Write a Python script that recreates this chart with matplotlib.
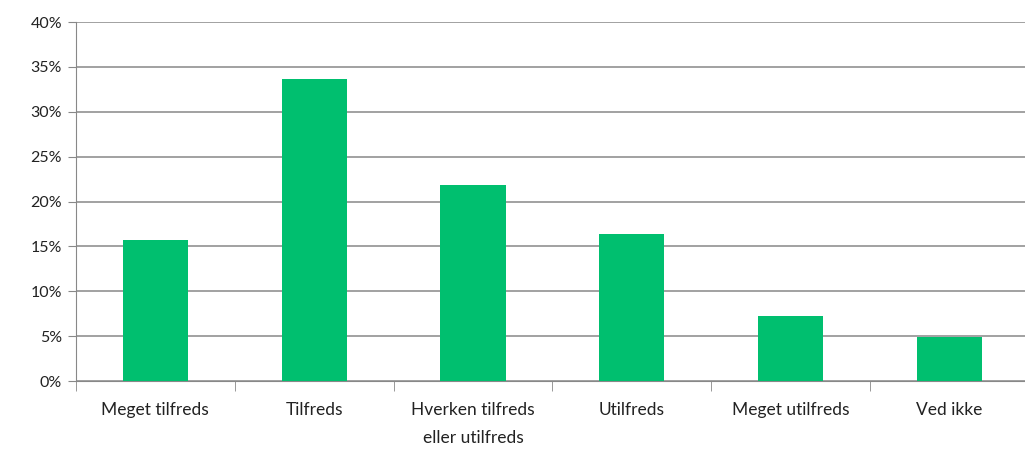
import matplotlib.pyplot as plt
from matplotlib.ticker import FixedLocator, FuncFormatter

# Data
kategorier = ["Meget tilfreds", "Tilfreds", "Hverken tilfreds\neller utilfreds",
              "Utilfreds", "Meget utilfreds", "Ved ikke"]
andel = [15.7, 33.7, 21.8, 16.4, 7.2, 4.9]
y_ticks = [0, 5, 10, 15, 20, 25, 30, 35, 40]

plt.rcParams['font.family'] = ['Lato', 'DejaVu Sans']

fig = plt.figure(figsize=(10.25, 4.51), dpi=100)
ax = fig.add_axes([0.074, 0.155, 0.93, 0.796])

x = list(range(len(kategorier)))
ax.bar(x, andel, width=0.41, color='#00BF6F', zorder=3)

ax.set_xlim(-0.5, len(kategorier) - 0.5)
ax.set_ylim(0, 40)
ax.set_yticks(y_ticks)
ax.yaxis.set_major_formatter(FuncFormatter(lambda v, p: f"{int(v)}%"))
ax.grid(axis='y', color='#888888', linewidth=1.1, zorder=0)

# Kategorietiketter midt mellom, tick-streker på grensene
ax.set_xticks(x)
ax.set_xticklabels(kategorier, fontsize=12.5, color='#222222', linespacing=1.9)
ax.tick_params(axis='x', length=0, pad=15)
ax.xaxis.set_minor_locator(FixedLocator([i - 0.5 for i in range(len(kategorier) + 1)]))
ax.tick_params(axis='x', which='minor', length=7, color='#888888', direction='out')
ax.tick_params(axis='y', length=6, color='#888888', labelsize=11.5, labelcolor='#222222', pad=4)

for side in ['top', 'right']:
    ax.spines[side].set_visible(False)
ax.spines['left'].set_color('#888888')
ax.spines['bottom'].set_color('#888888')

fig.savefig('out.png', dpi=100)
